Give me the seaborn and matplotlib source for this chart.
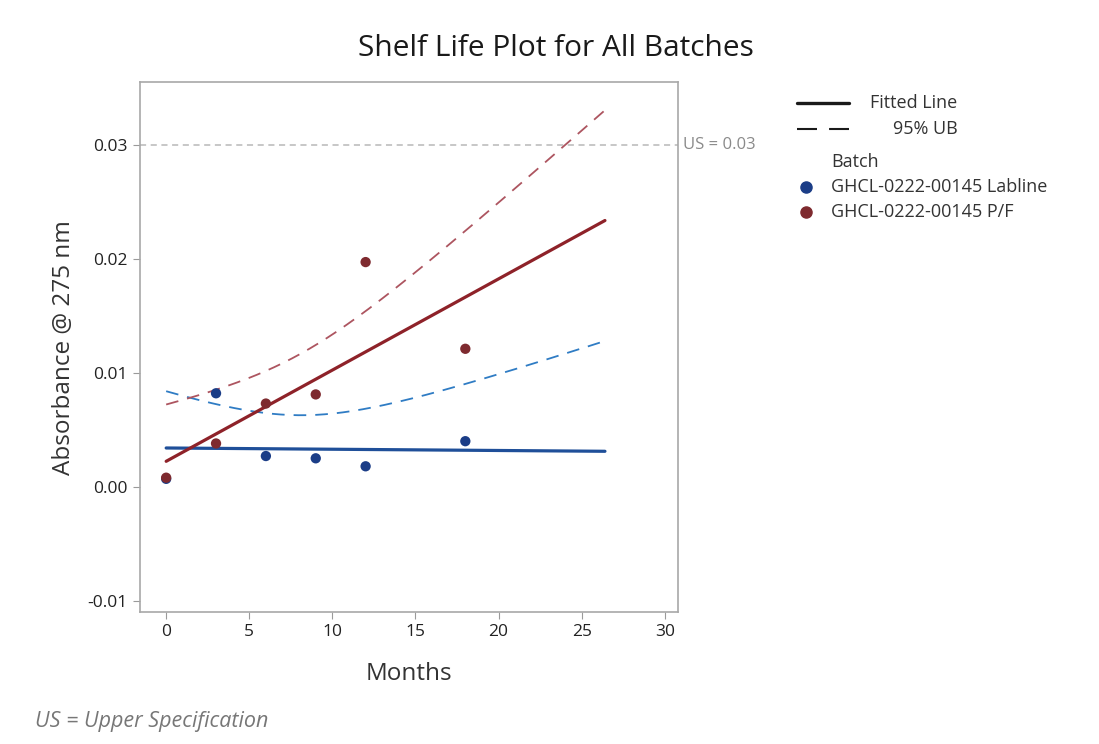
import numpy as np
import pandas as pd
import matplotlib as mpl
import matplotlib.pyplot as plt
from matplotlib.lines import Line2D
import seaborn as sns

sns.set_style('white')
plt.rcParams['font.family'] = ['Open Sans', 'DejaVu Sans']

# data
batches = ['GHCL-0222-00145 Labline', 'GHCL-0222-00145 P/F']
months_lab = [0, 3, 6, 9, 12, 18]
abs_lab = [0.0007, 0.0082, 0.0027, 0.0025, 0.0018, 0.0040]
months_pf = [0, 3, 6, 9, 12, 18]
abs_pf = [0.0008, 0.0038, 0.0073, 0.0081, 0.0197, 0.0121]
upper_spec = 0.03
t_95 = 1.860  # one-sided t, df = 8 (pooled error)
x_end = 26.4

point_colors = ['#1b3d87', '#7e2a2f']
fit_colors = ['#1f4f99', '#8e2229']
ub_colors = ['#2f7cc4', '#ad5560']

df = pd.concat([
    pd.DataFrame({'Months': months_lab, 'Absorbance': abs_lab, 'Batch': batches[0]}),
    pd.DataFrame({'Months': months_pf, 'Absorbance': abs_pf, 'Batch': batches[1]}),
])

# per-batch OLS fit with pooled error
fits = {}
sse = 0.0
dof = 0
for b in batches:
    d = df[df['Batch'] == b]
    slope, icpt = np.polyfit(d['Months'], d['Absorbance'], 1)
    resid = d['Absorbance'] - (icpt + slope * d['Months'])
    sse += np.sum(resid ** 2)
    dof += len(d) - 2
    fits[b] = (slope, icpt, d['Months'].mean(), np.sum((d['Months'] - d['Months'].mean()) ** 2), len(d))
s_pooled = np.sqrt(sse / dof)

xs = np.linspace(0, x_end, 200)
rows = []
for b in batches:
    slope, icpt, xbar, sxx, n = fits[b]
    yhat = icpt + slope * xs
    ub = yhat + t_95 * s_pooled * np.sqrt(1 / n + (xs - xbar) ** 2 / sxx)
    rows.append(pd.DataFrame({'Months': xs, 'fit': yhat, 'ub': ub, 'Batch': b}))
curves = pd.concat(rows)

fig = plt.figure(figsize=(10.99, 7.44), dpi=100)
ax = fig.add_axes([0.127, 0.177, 0.49, 0.713])

ax.axhline(upper_spec, color='#b8b8b8', ls=(0, (4, 3)), lw=1.1, zorder=1)
for i, b in enumerate(batches):
    c = curves[curves['Batch'] == b]
    sns.lineplot(x=c['Months'], y=c['ub'], color=ub_colors[i], lw=1.3, ls=(0, (7, 5)), ax=ax, zorder=2)
    sns.lineplot(x=c['Months'], y=c['fit'], color=fit_colors[i], lw=2.3, ax=ax, zorder=3)
sns.scatterplot(data=df, x='Months', y='Absorbance', hue='Batch', palette=point_colors,
                s=55, edgecolor='none', legend=False, ax=ax, zorder=4)

ax.set_xlim(-1.6, 30.8)
ax.set_ylim(-0.011, 0.0355)
ax.set_xticks([0, 5, 10, 15, 20, 25, 30])
ax.set_yticks([-0.01, 0.0, 0.01, 0.02, 0.03])
ax.set_yticklabels(['-0.01', '0.00', '0.01', '0.02', '0.03'])
ax.tick_params(axis='both', length=5, color='#9a9a9a', labelsize=12.5, labelcolor='#222222',
               direction='out', bottom=True, left=True)
for sp in ax.spines.values():
    sp.set_color('#a8a8a8')
    sp.set_linewidth(1.2)
ax.set_xlabel('Months', fontsize=17.5, color='#333333', labelpad=16)
ax.set_ylabel('Absorbance @ 275 nm', fontsize=17.5, color='#333333', labelpad=8)
ax.text(1.01, upper_spec, 'US = 0.03', transform=ax.get_yaxis_transform(), va='center', ha='left',
        fontsize=12, color='#8a8a8a')

# legend drawn in figure coordinates
def fx(px):
    return px / 1099

def fy(py):
    return 1 - py / 744

fig.suptitle('Shelf Life Plot for All Batches', x=0.506, y=fy(48), va='center',
             fontsize=21.5, color='#1a1a1a')

fig.add_artist(Line2D([fx(797), fx(849)], [fy(103), fy(103)], color='#1a1a1a', lw=2.4))
fig.text(fx(870), fy(103), 'Fitted Line', va='center', fontsize=13, color='#333333')
fig.add_artist(Line2D([fx(797), fx(849)], [fy(129), fy(129)], color='#1a1a1a', lw=1.5, ls=(0, (9.6, 5.8))))
fig.text(fx(893), fy(129), '95% UB', va='center', fontsize=13, color='#333333')
fig.text(fx(831), fy(162), 'Batch', va='center', fontsize=13, color='#333333')
for i, b in enumerate(batches):
    y = fy(187 + 25 * i)
    fig.add_artist(Line2D([fx(806)], [y], marker='o', ms=8, color=point_colors[i], ls='none'))
    fig.text(fx(831), y, b, va='center', fontsize=13, color='#333333')

fig.text(fx(35), fy(722), 'US = Upper Specification', va='center', fontsize=15.5,
         style='italic', color='#777777')

fig.savefig('out.png', dpi=100)
